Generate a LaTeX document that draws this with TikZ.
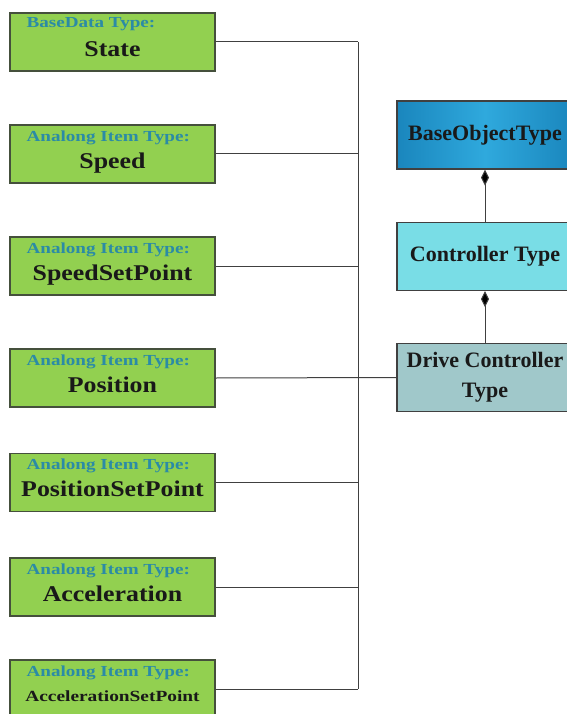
\documentclass[tikz,border=0pt]{standalone}
\usepackage{fontspec}
\setmainfont{Liberation Serif}
\newfontfamily\wideserif[FakeStretch=1.25]{Liberation Serif}
\newfontfamily\valueserif[FakeStretch=1.15]{Liberation Serif}
\usetikzlibrary{arrows.meta}

\definecolor{itemgreen}{HTML}{92D050}
\definecolor{itemedge}{HTML}{45503C}
\definecolor{kindteal}{HTML}{2B8BA6}
\definecolor{baseblue}{HTML}{1A86BD}
\definecolor{baseglow}{HTML}{2FA9DD}
\definecolor{ctrlcyan}{HTML}{79DDE6}
\definecolor{drivegray}{HTML}{A0C8CA}
\definecolor{lineedge}{HTML}{404040}

\tikzset{
  itembox/.style={draw=itemedge, line width=1.2pt, fill=itemgreen,
    minimum width=205pt, minimum height=58pt, inner sep=0pt},
  kindtext/.style={anchor=base west, inner sep=0pt, text=kindteal,
    font=\wideserif\bfseries\fontsize{15.3}{18}\selectfont},
  valuetext/.style={anchor=base, inner sep=0pt, text=black!90,
    font=\valueserif\bfseries\fontsize{22.5}{26}\selectfont},
  typebox/.style={draw=lineedge, line width=1.2pt, minimum width=176pt,
    minimum height=68pt, inner sep=0pt, align=center, text=black!90,
    font=\bfseries\fontsize{22}{30}\selectfont},
  bus/.style={draw=lineedge, line width=1pt},
  owns/.style={draw=lineedge, line width=1pt, -{Diamond[length=16pt,width=8pt,fill=black]}}
}

\begin{document}
\begin{tikzpicture}[x=1pt, y=-1pt]
  \useasboundingbox[fill=white] (0,0) rectangle (566,714);

  % items on the left
  \node[itembox] (state) at (112.5,42) {};
  \node[kindtext] (state-k) at ([xshift=17pt,yshift=-15pt]state.north west) {BaseData Type:};
  \node[valuetext] (state-v) at ([yshift=-44pt]state.north) {State};

  \node[itembox] (speed) at (112.5,154) {};
  \node[kindtext] (speed-k) at ([xshift=17pt,yshift=-17pt]speed.north west) {Analong Item Type:};
  \node[valuetext] (speed-v) at ([yshift=-44pt]speed.north) {Speed};

  \node[itembox] (speedsp) at (112.5,266) {};
  \node[kindtext] (speedsp-k) at ([xshift=17pt,yshift=-17pt]speedsp.north west) {Analong Item Type:};
  \node[valuetext] (speedsp-v) at ([yshift=-44pt]speedsp.north) {SpeedSetPoint};

  \node[itembox] (position) at (112.5,378) {};
  \node[kindtext] (position-k) at ([xshift=17pt,yshift=-17pt]position.north west) {Analong Item Type:};
  \node[valuetext] (position-v) at ([yshift=-44pt]position.north) {Position};

  \node[itembox] (positionsp) at (112.5,482.5) {};
  \node[kindtext] (positionsp-k) at ([xshift=17pt,yshift=-17pt]positionsp.north west) {Analong Item Type:};
  \node[valuetext] (positionsp-v) at ([yshift=-44pt]positionsp.north) {PositionSetPoint};

  \node[itembox] (accel) at (112.5,587) {};
  \node[kindtext] (accel-k) at ([xshift=17pt,yshift=-17pt]accel.north west) {Analong Item Type:};
  \node[valuetext] (accel-v) at ([yshift=-44pt]accel.north) {Acceleration};

  \node[itembox] (accelsp) at (112.5,689) {};
  \node[kindtext] (accelsp-k) at ([xshift=17pt,yshift=-17pt]accelsp.north west) {Analong Item Type:};
  \node[valuetext, font=\wideserif\bfseries\fontsize{15.5}{18}\selectfont] (accelsp-v) at ([yshift=-42pt]accelsp.north) {AccelerationSetPoint};

  % type hierarchy on the right
  \node[typebox, left color=baseblue, right color=baseblue, middle color=baseglow] (base) at (485,135) {BaseObjectType};
  \node[typebox, fill=ctrlcyan] (ctrl) at (485,256.5) {Controller Type};
  \node[typebox, fill=drivegray] (drive) at (485,377.5) {Drive Controller\\Type};

  \draw[owns] (ctrl) -- (base);
  \draw[owns] (drive) -- (ctrl);

  % bus
  \coordinate (bus) at (358,0);
  \draw[bus] (state.east) -- (state.east -| bus);
  \draw[bus] (speed.east) -- (speed.east -| bus);
  \draw[bus] (speedsp.east) -- (speedsp.east -| bus);
  \draw[bus] (position.east) -- (drive.west);
  \draw[bus] (positionsp.east) -- (positionsp.east -| bus);
  \draw[bus] (accel.east) -- (accel.east -| bus);
  \draw[bus] (accelsp.east) -- (accelsp.east -| bus);
  \draw[bus] (state.east -| bus) -- (accelsp.east -| bus);
\end{tikzpicture}
\end{document}
